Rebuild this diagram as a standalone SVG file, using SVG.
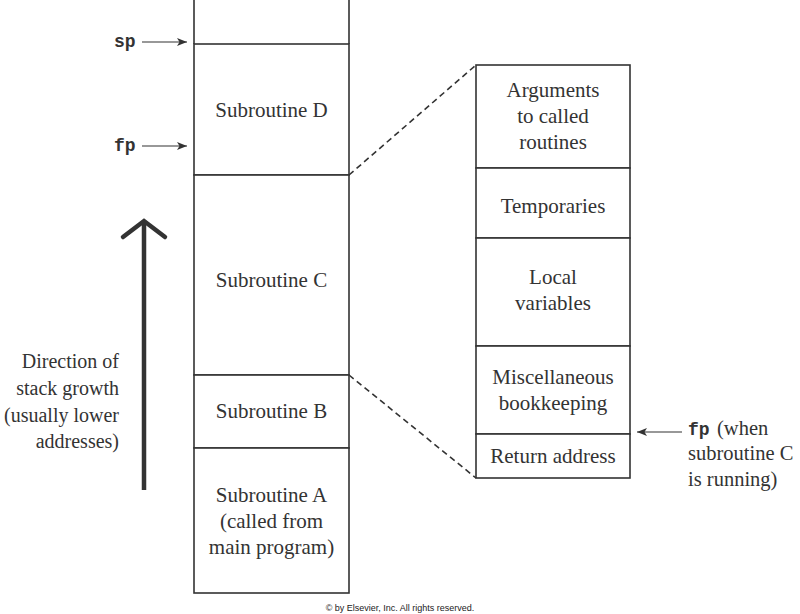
<svg xmlns="http://www.w3.org/2000/svg" width="800" height="614" viewBox="0 0 800 614">
<defs>
<marker id="ah" viewBox="0 0 10 8" refX="10" refY="4" markerWidth="10" markerHeight="8" markerUnits="userSpaceOnUse" orient="auto">
<path d="M0,0 L10,4 L0,8 L2.5,4 Z" fill="#333"/>
</marker>
<style>
.box{fill:#fff;stroke:#333;stroke-width:1.6}
.ln{stroke:#333;stroke-width:1.6;fill:none}
.t{font-family:"Liberation Serif","DejaVu Serif",serif;font-size:21px;fill:#333;text-anchor:middle}
.tl{font-family:"Liberation Serif","DejaVu Serif",serif;font-size:20.5px;fill:#333}
.g{font-family:"Liberation Serif","DejaVu Serif",serif;font-size:20px;fill:#333;text-anchor:end}
.m{font-family:"Liberation Mono","DejaVu Sans Mono",monospace;font-size:18px;font-weight:bold;fill:#333}
.dash{stroke:#333;stroke-width:1.6;stroke-dasharray:6,4;fill:none}
.ptr{stroke:#333;stroke-width:1.2;fill:none;marker-end:url(#ah)}
</style>
</defs>
<rect width="800" height="614" fill="#fff"/>
<g id="stack">
<g id="top"><path class="ln" d="M194,0 V44 M349,0 V44"/></g>
<g id="subD"><rect class="box" x="194" y="44" width="155" height="131"/><text class="t" x="271.5" y="117">Subroutine D</text></g>
<g id="subC"><rect class="box" x="194" y="175" width="155" height="200"/><text class="t" x="271.5" y="287">Subroutine C</text></g>
<g id="subB"><rect class="box" x="194" y="375" width="155" height="73"/><text class="t" x="271.5" y="418">Subroutine B</text></g>
<g id="subA"><rect class="box" x="194" y="448" width="155" height="145"/><text class="t" x="271.5" y="502">Subroutine A</text><text class="t" x="271.5" y="528">(called from</text><text class="t" x="271.5" y="554">main program)</text></g>
</g>
<g id="frame">
<g id="args"><rect class="box" x="476" y="65" width="154" height="103"/><text class="t" x="553" y="97">Arguments</text><text class="t" x="553" y="123">to called</text><text class="t" x="553" y="149">routines</text></g>
<g id="temps"><rect class="box" x="476" y="168" width="154" height="70"/><text class="t" x="553" y="213">Temporaries</text></g>
<g id="locals"><rect class="box" x="476" y="238" width="154" height="108"/><text class="t" x="553" y="284">Local</text><text class="t" x="553" y="310">variables</text></g>
<g id="misc"><rect class="box" x="476" y="346" width="154" height="88"/><text class="t" x="553" y="384">Miscellaneous</text><text class="t" x="553" y="410">bookkeeping</text></g>
<g id="ret"><rect class="box" x="476" y="434" width="154" height="44"/><text class="t" x="553" y="463">Return address</text></g>
</g>
<g id="labels">
<g id="sp-label"><text class="m" x="114" y="47">sp</text></g>
<g id="fp-label"><text class="m" x="114" y="151">fp</text></g>
<g id="fp2-label"><text class="m" x="688" y="435">fp</text><text class="tl" x="717" y="435">(when</text><text class="tl" x="688" y="460">subroutine C</text><text class="tl" x="688" y="486">is running)</text></g>
<g id="growth-label"><text class="g" x="119" y="368">Direction of</text><text class="g" x="119" y="395">stack growth</text><text class="g" x="119" y="422">(usually lower</text><text class="g" x="119" y="448">addresses)</text></g>
</g>
<g id="connectors">
<line class="ptr" x1="142" y1="42" x2="187" y2="42"/>
<line class="ptr" x1="142" y1="146" x2="187" y2="146"/>
<line class="ptr" x1="682" y1="432" x2="637" y2="432"/>
<line class="dash" x1="349" y1="175" x2="476" y2="65"/>
<line class="dash" x1="349" y1="375" x2="476" y2="478"/>
<g id="growth-arrow"><line x1="144" y1="490" x2="144" y2="222" stroke="#333" stroke-width="4.5"/><path d="M123,237 L144,221 L165,237" stroke="#333" stroke-width="4.5" fill="none" stroke-linecap="round" stroke-linejoin="miter"/></g>
</g>
<text x="400" y="611" font-family="Liberation Sans, Arial, sans-serif" font-size="9" fill="#222" text-anchor="middle">© by Elsevier, Inc. All rights reserved.</text>
</svg>
